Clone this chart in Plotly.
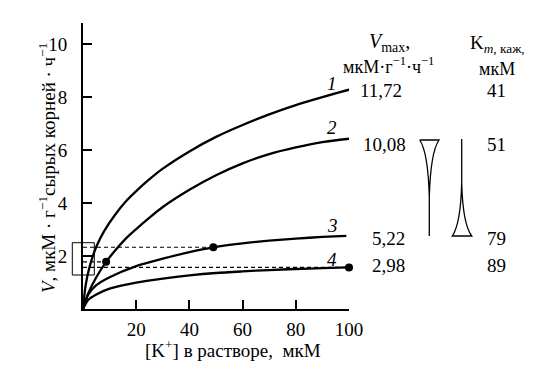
import plotly.graph_objects as go

# ---- data ----
x1 = [0, 1, 2.5, 5, 8, 12, 16, 20, 25, 30, 40, 50, 60, 70, 80, 90, 100, 103]
v1 = [0, 0.9, 1.6, 2.35, 2.95, 3.55, 4.05, 4.45, 4.9, 5.3, 5.95, 6.5, 6.95, 7.35, 7.7, 8.0, 8.28, 8.35]

x2 = [0, 2, 5, 8.7, 12, 16, 20, 25, 30, 40, 50, 60, 70, 80, 90, 100]
v2 = [0, 0.6, 1.2, 1.78, 2.2, 2.65, 3.02, 3.45, 3.85, 4.5, 5.05, 5.5, 5.85, 6.1, 6.3, 6.43]

x3 = [0, 2, 5, 10, 20, 30, 40, 49, 60, 70, 80, 90, 99]
v3 = [0, 0.55, 0.9, 1.2, 1.62, 1.9, 2.15, 2.33, 2.48, 2.58, 2.66, 2.72, 2.76]

x4 = [0, 2, 5, 10, 20, 30, 40, 50, 60, 70, 80, 90, 100]
v4 = [0, 0.35, 0.55, 0.77, 1.0, 1.15, 1.27, 1.36, 1.42, 1.47, 1.51, 1.54, 1.57]

dot_x = [8.7, 49, 100]
dot_v = [1.78, 2.33, 1.57]

curve_labels = ["1", "2", "3", "4"]
vmax_labels = ["11,72", "10,08", "5,22", "2,98"]
km_labels = ["41", "51", "79", "89"]
x_ticks = [20, 40, 60, 80, 100]
y_ticks = [2, 4, 6, 8, 10]

FONT = "Liberation Serif, Times New Roman, serif"

# page offset (default body margin) and plot-area frame, in window pixels
OFF = 8
L, R, T, B = 83, 349, 23, 309
FW, FH = 558 - OFF, 378 - OFF


def px(x):
    return (x - L) / (R - L)


def py(y):
    return (B - y) / (B - T)


fig = go.Figure()
line = dict(color="black", width=2.3, shape="spline", smoothing=0.8)
for xs, vs in [(x1, v1), (x2, v2), (x3, v3), (x4, v4)]:
    fig.add_trace(go.Scatter(x=xs, y=vs, mode="lines", line=line,
                             hoverinfo="skip", showlegend=False, cliponaxis=False))

# dashed guide lines from the axis to the dots
for dx, dv in zip(dot_x, dot_v):
    fig.add_trace(go.Scatter(x=[0, dx], y=[dv, dv], mode="lines",
                             line=dict(color="black", width=1.1, dash="4px,3px"),
                             hoverinfo="skip", showlegend=False))

fig.add_trace(go.Scatter(x=dot_x, y=dot_v, mode="markers",
                         marker=dict(color="black", size=8),
                         hoverinfo="skip", showlegend=False, cliponaxis=False))

ann = []
# curve numbers
for lab, yy in zip(curve_labels, [83, 128, 225, 259]):
    ann.append(dict(x=px(332), y=py(yy), text="<i>" + lab + "</i>", font_size=19))
# Vmax and Km values
for lab, xx, yy in zip(vmax_labels, [381, 384, 388, 388], [90, 144, 238, 265]):
    ann.append(dict(x=px(xx), y=py(yy), text=lab))
for lab, yy in zip(km_labels, [90, 144, 238, 265]):
    ann.append(dict(x=px(496), y=py(yy), text=lab))

ann.append(dict(x=px(389), y=py(42), text="<i>V</i><sub>max</sub>,", font_size=20))
ann.append(dict(x=px(388), y=py(65), text="мкМ·г<sup>−1</sup>·ч<sup>−1</sup>", font_size=18))
ann.append(dict(x=px(497), y=py(44), text="K<sub><i>m</i>, каж,</sub>", font_size=19))
ann.append(dict(x=px(497), y=py(69), text="мкМ", font_size=18))

# axis titles
ann.append(dict(x=px(233), y=py(349), text="[K<sup>+</sup>] в растворе,  мкМ", font_size=19))
ann.append(dict(x=px(47), y=py(168), textangle=-90,
                text="<i>V</i>, мкМ · г<sup>−1</sup>сырых корней · ч<sup>−1</sup>", font_size=19))

for a in ann:
    a.update(xref="paper", yref="paper", showarrow=False,
             xanchor="center", yanchor="middle")
    a.setdefault("font_size", 19)
    a["font"] = dict(family=FONT, size=a.pop("font_size"), color="black")

shapes = []
# small rectangle near the origin
shapes.append(dict(type="rect", xref="paper", yref="paper",
                   x0=px(72.3), x1=px(94.3), y0=py(275), y1=py(242.7),
                   line=dict(color="black", width=1)))


def P(x, y):
    return f"{px(x):.5f},{py(y):.5f}"


# left funnel (narrowing downwards)
left_path = (f"M{P(419.7,140)} L{P(439,140)} Q{P(430.6,152)} {P(429.3,197)} "
             f"L{P(429.3,236)} M{P(419.7,140)} Q{P(428,152)} {P(429.3,197)}")
# right funnel (widening downwards)
right_path = (f"M{P(461.7,139)} L{P(461.7,183)} Q{P(460.6,224)} {P(452.3,236)} "
              f"L{P(471.7,236)} Q{P(462.8,224)} {P(461.7,183)}")
for p in (left_path, right_path):
    shapes.append(dict(type="path", xref="paper", yref="paper", path=p,
                       line=dict(color="black", width=1.3)))

axis_common = dict(showgrid=False, zeroline=False, showline=True, linecolor="black",
                   linewidth=2, ticks="inside", ticklen=9, tickwidth=1.5,
                   tickcolor="black", tickfont=dict(family=FONT, size=19, color="black"))

fig.update_layout(
    width=FW, height=FH,
    margin=dict(l=L - OFF, r=558 - R, t=T - OFF, b=378 - B),
    paper_bgcolor="white", plot_bgcolor="white",
    xaxis=dict(range=[0, 100], tickvals=x_ticks, ticktext=[str(t) for t in x_ticks],
               ticklabelstandoff=2, **axis_common),
    yaxis=dict(range=[0, 10.8], tickvals=y_ticks, ticktext=[str(t) for t in y_ticks],
               ticklabelstandoff=10, **axis_common),
    annotations=ann, shapes=shapes, showlegend=False,
)

fig.write_html("out.html")
